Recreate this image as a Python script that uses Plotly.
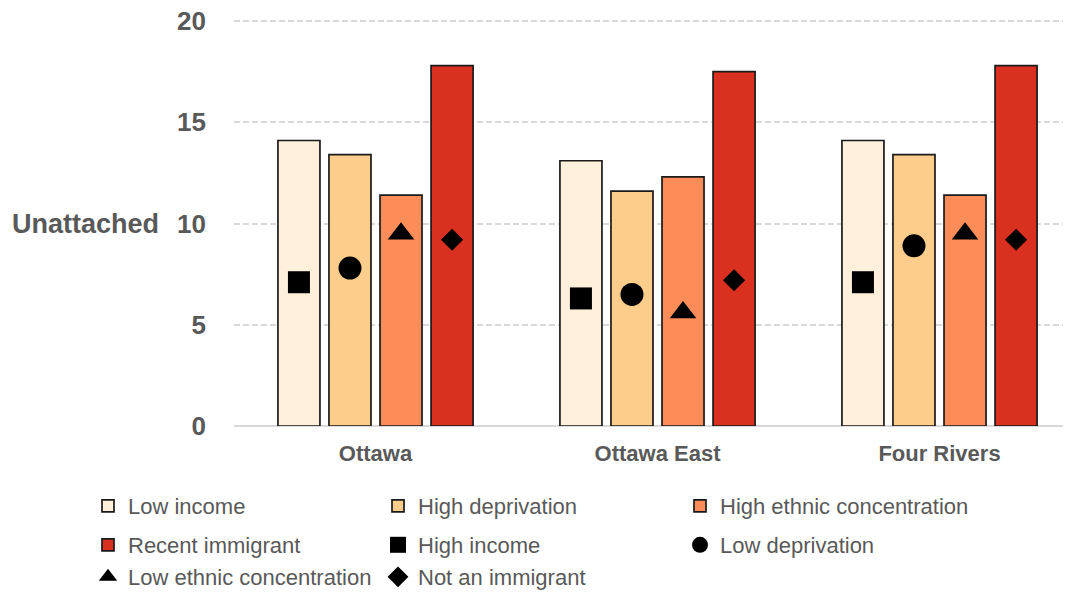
import plotly.graph_objects as go

categories = ["Ottawa", "Ottawa East", "Four Rivers"]

bar_names = ["Low income", "High deprivation", "High ethnic concentration", "Recent immigrant"]
low_income = [14.1, 13.1, 14.1]
high_deprivation = [13.4, 11.6, 13.4]
high_ethnic = [11.4, 12.3, 11.4]
recent_immigrant = [17.8, 17.5, 17.8]

marker_names = ["High income", "Low deprivation", "Low ethnic concentration", "Not an immigrant"]
high_income = [7.1, 6.3, 7.1]
low_deprivation = [7.8, 6.5, 8.9]
low_ethnic = [9.5, 5.6, 9.5]
not_immigrant = [9.2, 7.2, 9.2]

y_ticks = [0, 5, 10, 15, 20]

bar_values = [low_income, high_deprivation, high_ethnic, recent_immigrant]
marker_values = [high_income, low_deprivation, low_ethnic, not_immigrant]
bar_colors = ["#FEF0DB", "#FDCD8B", "#FC8D59", "#D9301F"]
symbols = ["square", "circle", "triangle-up", "diamond"]
msizes = [22, 23, 23, 17]

TEXT = "#595959"
FONT = "Liberation Sans, Arial, sans-serif"

slot = 0.181
bw = 0.149
offsets = [(k - 1.5) * slot for k in range(4)]
xs = list(range(len(categories)))

# The page body adds an 8px offset; layout values below are figure pixels.
W, H = 1055, 584
plot_l = 226
plot_top = 10.5
plot_bot = 418.5
cat0 = 367.5
cat_step = 282.0

# legend slots (left edge, vertical centre) in figure pixels, one per entry
bar_slots = [(80, 498), (370, 498), (672, 498), (80, 537)]
marker_slots = [(370, 537), (672, 537), (80, 569), (370, 569)]

fig = go.Figure()
legend_layout = {}
n = 0
for k in range(4):
    n += 1
    lname = "legend" if n == 1 else f"legend{n}"
    fig.add_trace(go.Bar(
        x=[i + offsets[k] for i in xs], y=bar_values[k], width=bw,
        name=bar_names[k], marker=dict(color=bar_colors[k], line=dict(color="#1a1a1a", width=1.7)),
        legend=lname, hoverinfo="name+y", showlegend=True,
    ))
    legend_layout[lname] = bar_slots[k]
for k in range(4):
    n += 1
    lname = f"legend{n}"
    fig.add_trace(go.Scatter(
        x=[i + offsets[k] for i in xs], y=marker_values[k], mode="markers",
        name=marker_names[k], marker=dict(symbol=symbols[k], size=msizes[k], color="black"),
        legend=lname, hoverinfo="name+y", showlegend=True,
    ))
    legend_layout[lname] = marker_slots[k]

legends = {}
for lname, (lx, ly) in legend_layout.items():
    legends[lname] = dict(orientation="h", xanchor="left", yanchor="middle",
                          xref="container", yref="container", x=lx / W, y=(H - ly) / H,
                          font=dict(family=FONT, size=22, color=TEXT),
                          bgcolor="rgba(0,0,0,0)")

fig.update_layout(
    width=W, height=H,
    showlegend=True,
    margin=dict(l=plot_l, r=0, t=plot_top, b=H - plot_bot),
    plot_bgcolor="white", paper_bgcolor="white",
    barmode="overlay",
    font=dict(family=FONT, color=TEXT),
    xaxis=dict(range=[(plot_l - cat0) / cat_step, (W - cat0) / cat_step],
               tickvals=xs, ticktext=categories,
               showgrid=False, zeroline=False, showline=False, ticks="", automargin=False,
               tickfont=dict(family=FONT, size=22, color=TEXT, weight="bold"),
               ticklabelstandoff=12),
    yaxis=dict(range=[0, 20.1], tickvals=y_ticks, showgrid=True, gridcolor="#D9D9D9",
               griddash="6px,3px", gridwidth=1.5, zeroline=True, zerolinecolor="#D9D9D9",
               zerolinewidth=2, showline=False, ticks="", automargin=False,
               ticklabeloverflow="allow",
               tickfont=dict(family=FONT, size=26, color=TEXT, weight="bold"),
               ticklabelstandoff=27),
    annotations=[dict(text="Unattached", xref="paper", yref="y",
                      x=(153 - plot_l) / (W - plot_l),
                      y=10, xanchor="right", yanchor="middle", showarrow=False,
                      font=dict(family=FONT, size=27, color=TEXT, weight="bold"))],
    **legends,
)

fig.write_html("out.html")
